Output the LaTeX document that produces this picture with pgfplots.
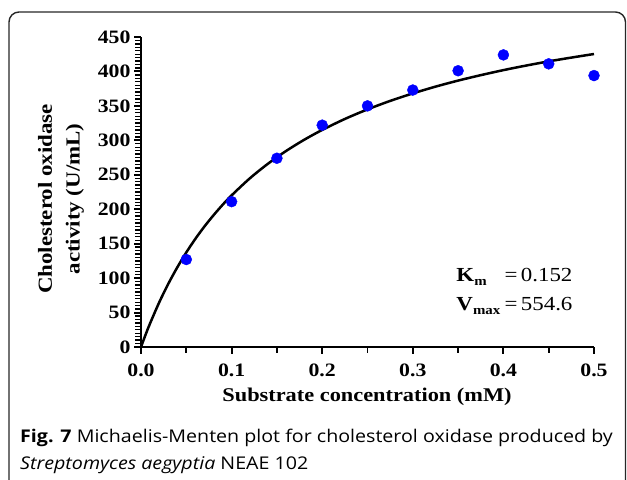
\documentclass[border=0pt]{standalone}
\usepackage{fontspec}
\setmainfont{Liberation Serif}
\newfontfamily\wserif[FakeStretch=1.15]{Liberation Serif}
\newfontfamily\capfont[FakeStretch=1.12]{Open Sans}
\usepackage{pgfplots}
\pgfplotsset{compat=1.18}
\begin{document}
\begin{tikzpicture}[x=1bp,y=1bp]
\useasboundingbox (0,0) rectangle (627,480);
\draw[line width=1.4bp, black!85, rounded corners=10bp] (9,-30) rectangle (625.5,468);
\begin{axis}[
  at={(141bp,133bp)}, anchor=south west,
  scale only axis, width=453bp, height=310bp,
  xmin=0, xmax=0.5, ymin=0, ymax=450,
  axis x line*=bottom, axis y line*=left,
  axis line style={line width=2.2bp},
  xtick={0,0.1,0.2,0.3,0.4,0.5}, ytick={0,50,...,450},
  tick align=outside,
  major tick length=7bp,
  every major tick/.style={black, line width=2bp},
  xticklabels={0.0,0.1,0.2,0.3,0.4,0.5},
  xticklabel style={font=\wserif\fontsize{19}{22}\selectfont\bfseries, yshift=-6bp},
  yticklabel style={font=\wserif\fontsize{19}{22}\selectfont\bfseries},
  /pgf/number format/assume math mode=true,
  clip=false,
]
\addplot[black, line width=2.5bp, smooth] coordinates {
(0,0) (0.005,17.7) (0.01,34.2) (0.02,64.5) (0.03,91.4) (0.04,115.5) (0.05,137.3)
(0.06,157.0) (0.07,174.9) (0.08,191.2) (0.09,206.3) (0.10,220.1) (0.12,244.7)
(0.14,265.9) (0.16,284.4) (0.18,300.7) (0.20,315.1) (0.225,331.0) (0.25,344.9)
(0.275,357.2) (0.30,368.1) (0.325,377.9) (0.35,386.7) (0.375,394.6) (0.40,401.9)
(0.425,408.5) (0.45,414.6) (0.475,420.1) (0.50,425.3)
};
\addplot[only marks, mark=*, mark size=5.5bp, color=blue, mark options={draw=blue, fill=blue}] coordinates {
(0.05,127) (0.10,211) (0.15,274) (0.20,322) (0.25,350) (0.30,373)
(0.35,401) (0.40,424) (0.45,411) (0.50,394)
};
\node[anchor=west, inner sep=0pt, font=\wserif\fontsize{20}{30}\selectfont] at (axis cs:0.348,83) {%
\begin{tabular}{@{}l@{}l@{}}
\textbf{K}\raisebox{-0.4ex}{\fontsize{13}{14}\selectfont\bfseries m}\hspace{0.9em} & =\,0.152\\[-1pt]
\textbf{V}\raisebox{-0.5ex}{\fontsize{13}{14}\selectfont\bfseries max} & =\,554.6
\end{tabular}};
\end{axis}
\foreach \v in {5,10,...,445} {\draw[black, line width=1.4bp] (141,{133+\v*0.688889}) -- (135,{133+\v*0.688889});}
\foreach \v in {0.05,0.15,0.25,0.35,0.45} {\draw[black, line width=1.8bp] ({141+\v*906},133) -- ({141+\v*906},127);}
\node[font=\wserif\fontsize{19.5}{22}\selectfont\bfseries] at (367,83) {Substrate concentration (mM)};
\node[rotate=90, align=center, font=\wserif\fontsize{20}{28}\selectfont\bfseries] at (61,281) {Cholesterol oxidase\\activity (U/mL)};
\node[anchor=base west, inner sep=0pt, font=\capfont\fontsize{17.6}{28}\selectfont, align=left] at (20,10) {\textbf{Fig. 7} Michaelis-Menten plot for cholesterol oxidase produced by\\\textit{Streptomyces aegyptia} NEAE 102};
\end{tikzpicture}
\end{document}
